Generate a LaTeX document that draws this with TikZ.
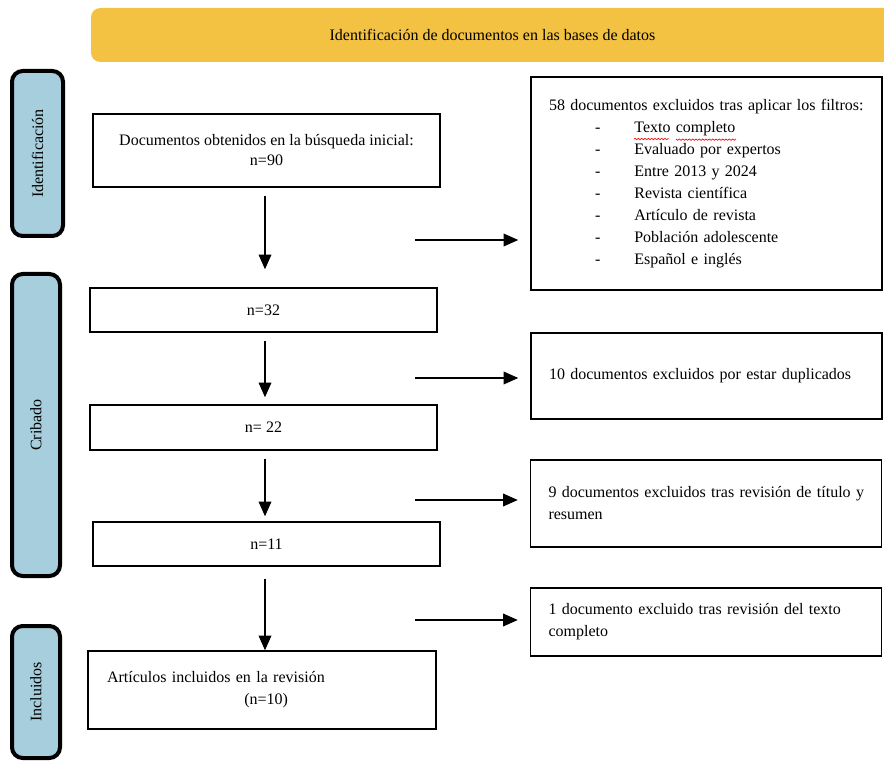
\documentclass[tikz,border=0pt]{standalone}
\usepackage{fontspec}
\setmainfont{Liberation Serif}
\usetikzlibrary{arrows.meta,decorations.pathmorphing}

\definecolor{bannerorange}{HTML}{F4C243}
\definecolor{phaseblue}{HTML}{A7CEDC}
\newcommand\filtro[1]{\makebox[64pt][l]{\hspace{34.5pt}-}#1}

\begin{document}
\begin{tikzpicture}[x=0.75pt,y=-0.75pt,
    font=\fontsize{12}{16.5}\selectfont,
    phase/.style={draw,line width=3pt,rounded corners=8pt,fill=phaseblue,rotate=90,minimum height=36pt},
    main box/.style={draw,line width=1.1pt,minimum width=260.25pt,align=center,inner sep=0pt},
    excl box/.style={draw,line width=1.1pt,text width=236.25pt,inner xsep=13.5pt,align=left},
    flow/.style={-{Triangle[length=11pt,width=9.5pt]},line width=1pt}]

\useasboundingbox (0,0) rectangle (884,762);

% Banner
\node[fill=bannerorange,rounded corners=7pt,minimum width=602.25pt,minimum height=40.5pt] (banner) at (492.5,35)
    {Identificación de documentos en las bases de datos};

% Phases
\node[phase,minimum width=123.75pt,minimum height=38.25pt] (identificacion) at (37.5,153.5) {Identificación};
\node[phase,minimum width=226.5pt] (cribado) at (36,425) {Cribado};
\node[phase,minimum width=99pt] (incluidos) at (36,692) {Incluidos};

% Main flow
\node[main box,minimum height=54.75pt,font=\fontsize{12}{15}\selectfont] (start) at (266.5,150.5)
    {Documentos obtenidos en la búsqueda inicial:\\n=90};
\node[main box,minimum height=33pt] (n32) at (263.5,310) {n=32};
\node[main box,minimum height=33.75pt] (n22) at (263.5,427.5) {n= 22};
\node[main box,minimum height=33pt] (n11) at (266.5,544) {n=11};
\node[main box,text width=232.5pt,inner xsep=14.25pt,align=left,minimum height=58.5pt] (final) at (262,690)
    {Artículos incluidos en la revisión\\\hspace*{103pt}(n=10)};

% Excluded
\node[excl box,minimum height=159.75pt] (ex1) at (706.5,183.5)
    {\mbox{58 documentos excluidos tras aplicar los filtros:}\\
     \filtro{Texto completo}\\
     \filtro{Evaluado por expertos}\\
     \filtro{Entre 2013 y 2024}\\
     \filtro{Revista científica}\\
     \filtro{Artículo de revista}\\
     \filtro{Población adolescente}\\
     \filtro{Español e inglés}};
\node[excl box,minimum height=64.5pt] (ex2) at (706.5,376) {10 documentos excluidos por estar duplicados};
\node[excl box,minimum height=65.25pt] (ex3) at (706,503.5)
    {\mbox{9 documentos excluidos tras revisión de título y}\\resumen};
\node[excl box,minimum height=51pt] (ex4) at (706,622)
    {1 documento excluido tras revisión del texto\\completo};

% spell-check marks
\draw[red,line width=0.5pt,decorate,decoration={snake,amplitude=0.5pt,segment length=2.5pt}]
    (634,139) -- (668,139) (676,139) -- (736,139);

% Arrows
\coordinate (spine) at (265,0);
\draw[flow,shorten <=6pt,shorten >=13.5pt] (start.south -| spine) -- (n32.north -| spine);
\draw[flow,shorten <=6pt,shorten >=5.25pt] (n32.south -| spine) -- (n22.north -| spine);
\draw[flow,shorten <=6pt,shorten >=3.75pt] (n22.south -| spine) -- (n11.north -| spine);
\draw[flow,shorten <=9pt] (n11.south -| spine) -- (final.north -| spine);

\coordinate (h1) at (415,240);
\coordinate (h2) at (415,378);
\coordinate (h3) at (415,500);
\coordinate (h4) at (415,620);
\draw[flow,shorten >=9pt] (h1) -- (h1 -| ex1.west);
\draw[flow,shorten >=9pt] (h2) -- (h2 -| ex2.west);
\draw[flow,shorten >=9pt] (h3) -- (h3 -| ex3.west);
\draw[flow,shorten >=9pt] (h4) -- (h4 -| ex4.west);

\end{tikzpicture}
\end{document}
